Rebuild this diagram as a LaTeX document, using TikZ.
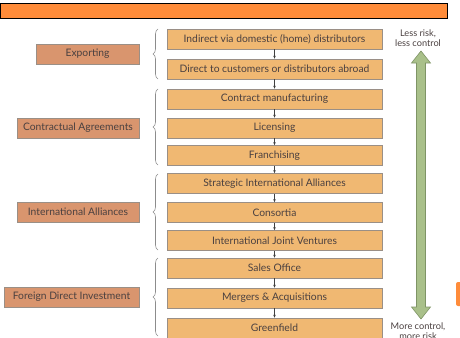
\documentclass[tikz,border=0pt]{standalone}
\usepackage{fontspec}
\setmainfont{Lato}
\usetikzlibrary{decorations.pathreplacing,arrows.meta}
\definecolor{barorange}{HTML}{FF8C3A}
\definecolor{boxfill}{HTML}{F0B872}
\definecolor{catfill}{HTML}{D9956E}
\definecolor{boxedge}{HTML}{9A8F86}
\definecolor{txt}{HTML}{4A4040}
\definecolor{arrowgreen}{HTML}{A9C08A}
\definecolor{arrowedge}{HTML}{7F9466}
\begin{document}
\begin{tikzpicture}[x=1pt,y=-1pt,
  modebox/.style={draw=boxedge,fill=boxfill,line width=0.6pt,minimum width=215pt,minimum height=20pt,inner sep=0pt,font=\fontsize{10.3}{12}\selectfont,text=txt},
  catbox/.style={draw=boxedge,fill=catfill,line width=0.6pt,minimum height=20pt,inner sep=0pt,font=\fontsize{10.3}{12}\selectfont,text=txt},
  flow/.style={-{Stealth[length=3pt,width=2.5pt]},line width=0.5pt,draw=black!75},
  grpbrace/.style={decorate,decoration={brace,amplitude=5pt,mirror},draw=black!45,line width=0.6pt},
  sidetxt/.style={font=\fontsize{9.2}{10}\selectfont,text=txt,align=center}]
\clip (0,0) rectangle (460,337);
\useasboundingbox (0,0) rectangle (460,337);
\node[draw=black,fill=barorange,line width=1pt,minimum width=447pt,minimum height=15pt,inner sep=0pt,anchor=north west] (bar) at (0,3) {};
% right boxes
\node[modebox] (b1) at (274.5,39) {Indirect via domestic (home) distributors};
\node[modebox] (b2) at (274.5,69) {Direct to customers or distributors abroad};
\node[modebox] (b3) at (274.5,99) {Contract manufacturing};
\node[modebox] (b4) at (274.5,128) {Licensing};
\node[modebox] (b5) at (274.5,155.5) {Franchising};
\node[modebox] (b6) at (274.5,183.5) {Strategic International Alliances};
\node[modebox] (b7) at (274.5,212.5) {Consortia};
\node[modebox] (b8) at (274.5,240.5) {International Joint Ventures};
\node[modebox] (b9) at (274.5,268) {Sales Office};
\node[modebox] (b10) at (274.5,298) {Mergers \& Acquisitions};
\node[modebox] (b11) at (274.5,328) {Greenfield};
\foreach \a/\b in {b1/b2,b2/b3,b3/b4,b4/b5,b5/b6,b6/b7,b7/b8,b8/b9,b9/b10,b10/b11}
  \draw[flow] (\a.south) -- (\b.north);
% categories
\node[catbox,minimum width=103pt] (c1) at (87.5,54) {Exporting};
\node[catbox,minimum width=122pt] (c2) at (78,128) {Contractual Agreements};
\node[catbox,minimum width=122pt] (c3) at (78,212) {International Alliances};
\node[catbox,minimum width=135pt] (c4) at (71.5,297) {Foreign Direct Investment};
% braces
\coordinate (t1) at (158,29); \coordinate (e1) at (158,79);
\coordinate (t2) at (158,89); \coordinate (e2) at (158,165);
\coordinate (t3) at (158,174); \coordinate (e3) at (158,250);
\coordinate (t4) at (158,258); \coordinate (e4) at (158,336);
\foreach \t/\e in {t1/e1,t2/e2,t3/e3,t4/e4}
  \draw[grpbrace] (\t) -- (\e);
% green double arrow
\draw[arrowedge,fill=arrowgreen,line width=0.6pt] (421,51) -- (430.5,63) -- (425.5,63) -- (425.5,307) -- (430.5,307) -- (421,319) -- (411.5,307) -- (416.5,307) -- (416.5,63) -- (411.5,63) -- cycle;
\node[sidetxt] (lt) at (418,38) {Less risk,\\less control};
\node[sidetxt] (mt) at (418,331) {More control,\\more risk};
% partial orange shape at right edge
\fill[barorange,rounded corners=2pt] (456,282) rectangle (466,306);
\end{tikzpicture}
\end{document}
